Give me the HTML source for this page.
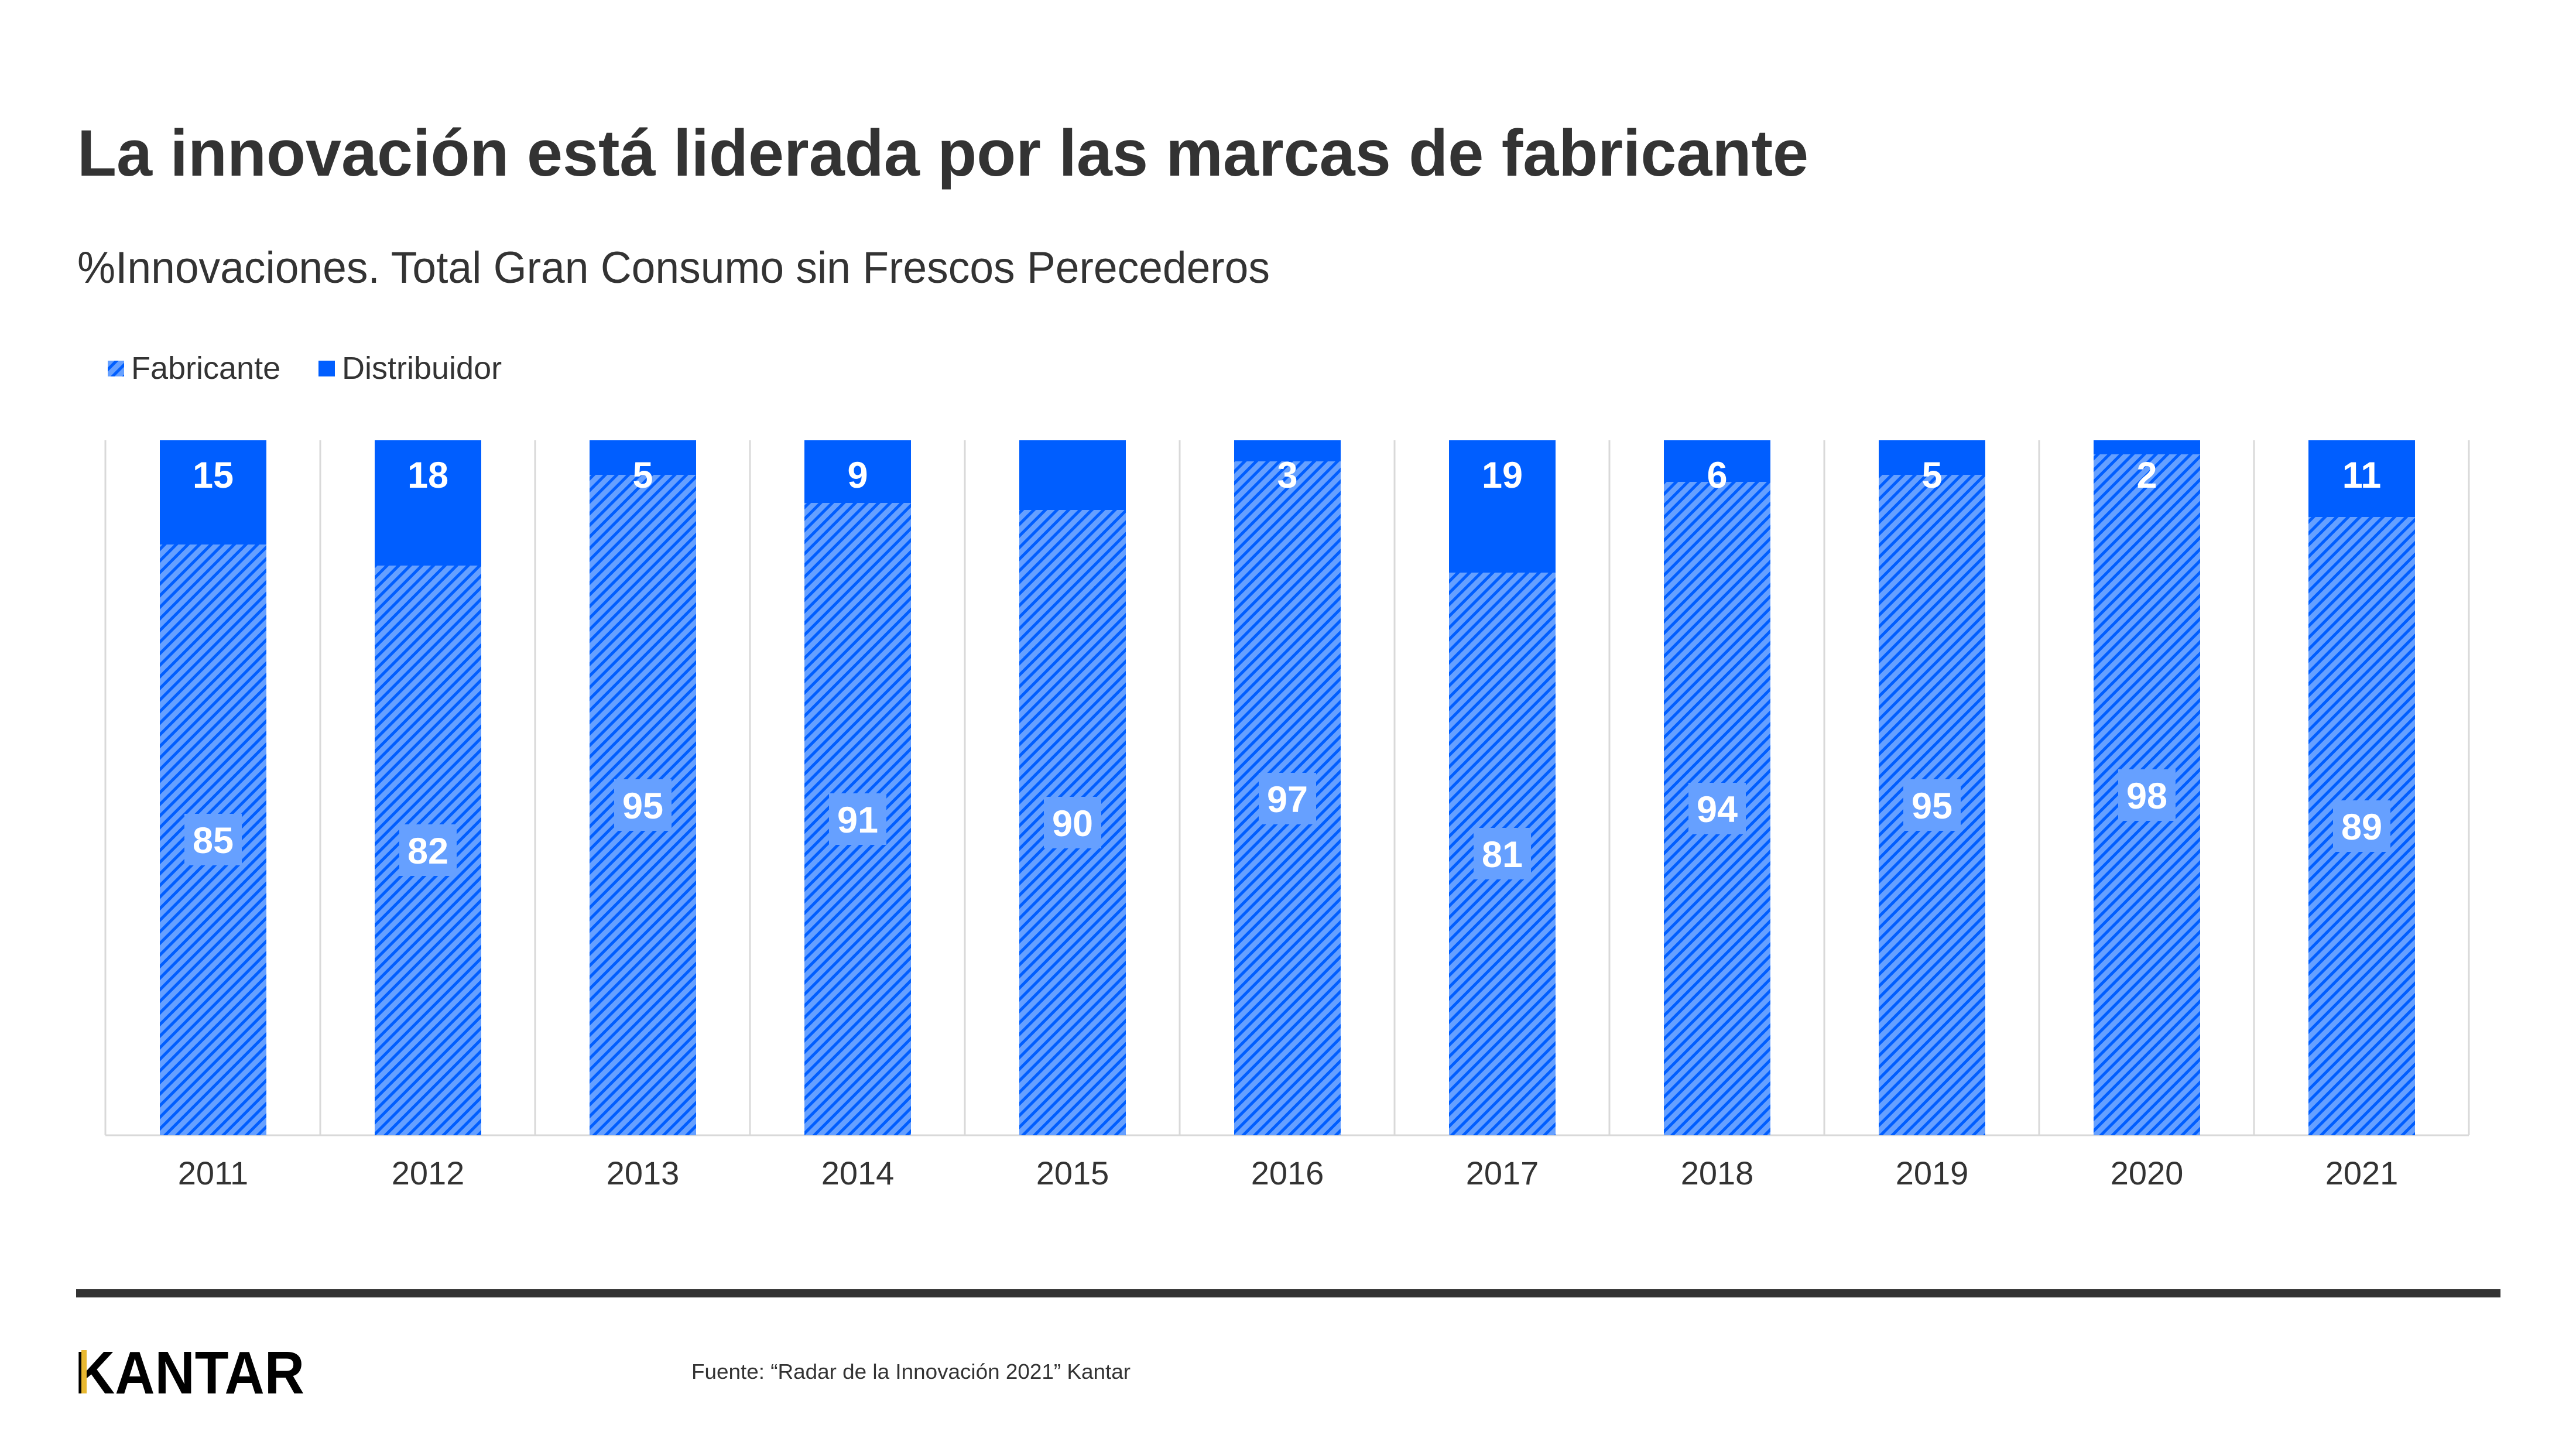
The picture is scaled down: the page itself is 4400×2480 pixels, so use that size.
<!DOCTYPE html>
<html><head><meta charset="utf-8"><style>
html,body{margin:0;padding:0;background:#fff;}
body{width:4400px;height:2475px;overflow:hidden;}
</style></head><body>
<svg width="4400" height="2475" viewBox="0 0 4400 2475" xmlns="http://www.w3.org/2000/svg" font-family="Liberation Sans, Arial, sans-serif">
<defs>
<pattern id="h" patternUnits="userSpaceOnUse" width="14" height="14" patternTransform="rotate(45)">
<rect width="14" height="14" fill="#66a0ff"/>
<rect width="5" height="14" fill="#005eff"/>
</pattern>
</defs>
<text x="132" y="300" font-size="112" font-weight="bold" fill="#333" textLength="2957" lengthAdjust="spacingAndGlyphs">La innovación está liderada por las marcas de fabricante</text>
<text x="132" y="483" font-size="76" fill="#333" textLength="2037" lengthAdjust="spacingAndGlyphs">%Innovaciones. Total Gran Consumo sin Frescos Perecederos</text>
<rect x="184" y="616" width="28" height="27" fill="url(#h)"/>
<text x="224" y="647" font-size="54" fill="#333">Fabricante</text>
<rect x="544" y="616" width="28" height="27" fill="#005eff"/>
<text x="584" y="647" font-size="54" fill="#333">Distribuidor</text>
<g stroke="#d9d9d9" stroke-width="3">
<line x1="180" y1="752" x2="180" y2="1939"/><line x1="547" y1="752" x2="547" y2="1939"/><line x1="914" y1="752" x2="914" y2="1939"/><line x1="1281" y1="752" x2="1281" y2="1939"/><line x1="1648" y1="752" x2="1648" y2="1939"/><line x1="2015" y1="752" x2="2015" y2="1939"/><line x1="2382" y1="752" x2="2382" y2="1939"/><line x1="2749" y1="752" x2="2749" y2="1939"/><line x1="3116" y1="752" x2="3116" y2="1939"/><line x1="3483" y1="752" x2="3483" y2="1939"/><line x1="3850" y1="752" x2="3850" y2="1939"/><line x1="4217" y1="752" x2="4217" y2="1939"/>
<line x1="180" y1="1939" x2="4217" y2="1939"/>
</g>
<line x1="130" y1="2209" x2="4271" y2="2209" stroke="#333" stroke-width="14"/>
<text x="128" y="2380" font-size="103" font-weight="bold" fill="#000" textLength="392" lengthAdjust="spacingAndGlyphs">KANTAR</text>
<rect x="139" y="2306" width="9" height="74" fill="#e8b830"/>
<text x="1181" y="2355" font-size="36" fill="#333" textLength="750" lengthAdjust="spacingAndGlyphs">Fuente: “Radar de la Innovación 2021” Kantar</text>
<g font-weight="bold" font-size="63" fill="#fff" text-anchor="middle">
<rect x="273" y="930" width="182" height="1009" fill="url(#h)"/><rect x="273" y="752" width="182" height="178" fill="#005eff"/>
<rect x="315" y="1390" width="98" height="88" fill="#66a0ff"/><text x="364" y="1457">85</text><text x="364" y="833">15</text>
<rect x="640" y="966" width="182" height="973" fill="url(#h)"/><rect x="640" y="752" width="182" height="214" fill="#005eff"/>
<rect x="682" y="1408" width="98" height="88" fill="#66a0ff"/><text x="731" y="1475">82</text><text x="731" y="833">18</text>
<rect x="1007" y="811" width="182" height="1128" fill="url(#h)"/><rect x="1007" y="752" width="182" height="59" fill="#005eff"/>
<rect x="1049" y="1331" width="98" height="88" fill="#66a0ff"/><text x="1098" y="1398">95</text><text x="1098" y="833">5</text>
<rect x="1374" y="859" width="182" height="1080" fill="url(#h)"/><rect x="1374" y="752" width="182" height="107" fill="#005eff"/>
<rect x="1416" y="1355" width="98" height="88" fill="#66a0ff"/><text x="1465" y="1422">91</text><text x="1465" y="833">9</text>
<rect x="1741" y="871" width="182" height="1068" fill="url(#h)"/><rect x="1741" y="752" width="182" height="119" fill="#005eff"/>
<rect x="1783" y="1361" width="98" height="88" fill="#66a0ff"/><text x="1832" y="1428">90</text>
<rect x="2108" y="788" width="182" height="1151" fill="url(#h)"/><rect x="2108" y="752" width="182" height="36" fill="#005eff"/>
<rect x="2150" y="1320" width="98" height="88" fill="#66a0ff"/><text x="2199" y="1387">97</text><text x="2199" y="833">3</text>
<rect x="2475" y="978" width="182" height="961" fill="url(#h)"/><rect x="2475" y="752" width="182" height="226" fill="#005eff"/>
<rect x="2517" y="1414" width="98" height="88" fill="#66a0ff"/><text x="2566" y="1481">81</text><text x="2566" y="833">19</text>
<rect x="2842" y="823" width="182" height="1116" fill="url(#h)"/><rect x="2842" y="752" width="182" height="71" fill="#005eff"/>
<rect x="2884" y="1337" width="98" height="88" fill="#66a0ff"/><text x="2933" y="1404">94</text><text x="2933" y="833">6</text>
<rect x="3209" y="811" width="182" height="1128" fill="url(#h)"/><rect x="3209" y="752" width="182" height="59" fill="#005eff"/>
<rect x="3251" y="1331" width="98" height="88" fill="#66a0ff"/><text x="3300" y="1398">95</text><text x="3300" y="833">5</text>
<rect x="3576" y="776" width="182" height="1163" fill="url(#h)"/><rect x="3576" y="752" width="182" height="24" fill="#005eff"/>
<rect x="3618" y="1314" width="98" height="88" fill="#66a0ff"/><text x="3667" y="1381">98</text><text x="3667" y="833">2</text>
<rect x="3943" y="883" width="182" height="1056" fill="url(#h)"/><rect x="3943" y="752" width="182" height="131" fill="#005eff"/>
<rect x="3985" y="1367" width="98" height="88" fill="#66a0ff"/><text x="4034" y="1434">89</text><text x="4034" y="833">11</text>
</g>
<g font-size="56" fill="#333" text-anchor="middle">
<text x="364" y="2023">2011</text><text x="731" y="2023">2012</text><text x="1098" y="2023">2013</text><text x="1465" y="2023">2014</text><text x="1832" y="2023">2015</text><text x="2199" y="2023">2016</text><text x="2566" y="2023">2017</text><text x="2933" y="2023">2018</text><text x="3300" y="2023">2019</text><text x="3667" y="2023">2020</text><text x="4034" y="2023">2021</text>
</g>
</svg>
</body></html>
